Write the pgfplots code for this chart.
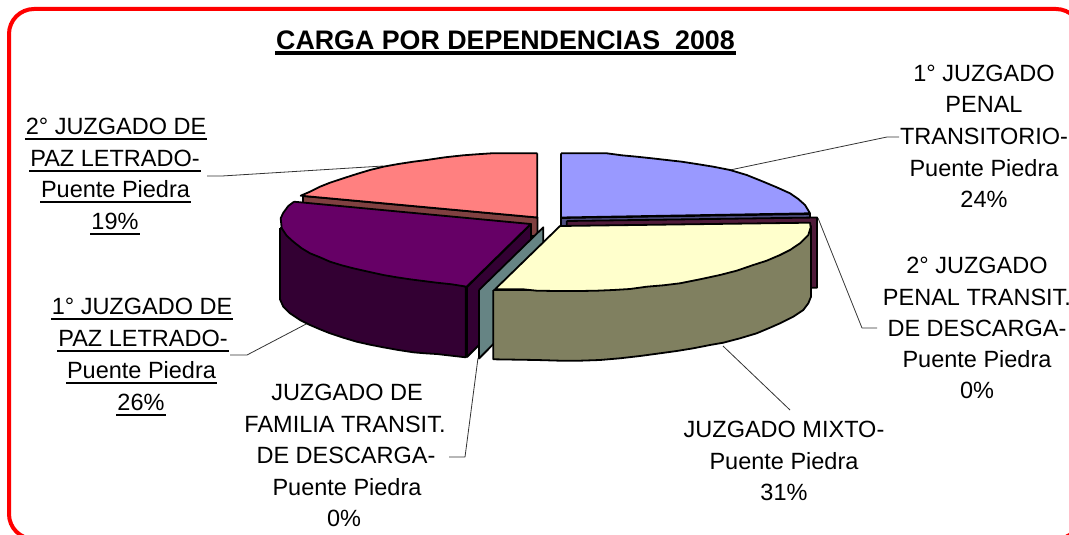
\documentclass[border=0pt]{standalone}
\usepackage{fontspec}
\setmainfont{Liberation Sans}
\usepackage{pgfplots}
\pgfplotsset{compat=1.18}
\newcommand\ul[2][2pt]{\leavevmode\setbox0\hbox{#2}\rlap{\kern-1pt\rule[-5.5pt]{\dimexpr\wd0+2pt}{#1}}\box0}
\definecolor{rosa}{HTML}{FF8080}
\definecolor{rosaosc}{HTML}{804040}
\definecolor{azul}{HTML}{9999FF}
\definecolor{azulosc}{HTML}{4D4D80}
\definecolor{crema}{HTML}{FFFFCC}
\definecolor{oliva}{HTML}{808060}
\definecolor{morado}{HTML}{660066}
\definecolor{moradoosc}{HTML}{330033}
\definecolor{vino}{HTML}{4F1A3A}
\definecolor{gristeal}{HTML}{668484}
\tikzset{
    pie/.style={draw=black, line width=1.8pt},
    leader/.style={draw=black!80, line width=0.8pt},
    lbl/.style={anchor=base, inner sep=0pt, font=\fontsize{23.5}{28}\selectfont, text=black},
}
\begin{document}
\begin{tikzpicture}
\begin{axis}[
    name=ax,
    scale only axis,
    width=1069pt, height=535pt,
    xmin=0, xmax=1069, ymin=0, ymax=535,
    y dir=reverse,
    hide axis,
    every axis plot/.append style={no markers, line join=round},
]
% marco
\addplot[red, line width=4pt, rounded corners=25pt] coordinates {
    (9,300)(9,9)(1081,9)(1081,539)(9,539)(9,300)};

% lineas guia
\addplot[leader] coordinates {(730,170)(887,137)(899,137)};
\addplot[leader] coordinates {(818,218)(862,328)(877,328)};
\addplot[leader] coordinates {(723,346)(790,410)};
\addplot[leader] coordinates {(478,358)(465,457)(449,457)};
\addplot[leader] coordinates {(310,322)(247,355)(230,355)};
\addplot[leader] coordinates {(383,166)(222,176)(207,176)};

% 2 juzgado de paz
\addplot[pie, fill=rosaosc] coordinates {(303,196)(537.5,217.5)(537.5,236)(530,236)(303,203)(303,196)};
\addplot[pie, fill=rosa] coordinates {(537.3,153.3)(491.7,153.3)(476.7,154.3)(463.3,155.3)(445,157.3)(426.7,160)(413.3,161.7)(398.3,164)(383.3,166.7)(370,170)(356.7,174)(343.3,178.3)(330,182.7)(320,186.7)(310,191.7)(300.7,195.7)(537.3,217.5)(537.3,153.3)};

% 1 juzgado penal
\addplot[pie, fill=azulosc] coordinates {(561,218)(810,214)(810,226)(561,227)(561,218)};
\addplot[pie, fill=azul] coordinates {(561,153.3)(606.7,153.3)(621.7,155.3)(636.7,156.7)(651.7,158.3)(666.7,160)(681.7,161.7)(696.7,164)(713.3,166.7)(730,170)(746.7,175)(763.3,181.7)(776.7,187.3)(790,193.3)(798.3,199)(805,205)(810,213.3)(561,217.5)(561,153.3)};

% 2 juzgado penal descarga
\addplot[pie, fill=vino] coordinates {(566.7,221)(817,217.5)(817,287.7)(811,287.7)(811,226)(566.7,226)(566.7,221)};

% 1 juzgado de paz
\addplot[pie, fill=moradoosc] coordinates {(467,287)(531,224)(531,293)(467,357)(467,287)};
\addplot[pie, fill=moradoosc] coordinates {(280,228)(280,299.3)(283.3,306.7)(290,313.3)(300,320)(310,325)(320,329.3)(330,333.3)(343.3,337.7)(356.7,341.7)(370,344.7)(383.3,347.3)(398.3,350)(413.3,352.3)(425,353.3)(436.7,354)(465.7,357.3)(465.7,286.7)(280,228)};
\addplot[pie, fill=morado] coordinates {(294,201.7)(530.7,224)(466.7,286.7)(451.7,284.3)(436.7,282.7)(423.3,281)(410,279.3)(396.7,277.3)(383.3,275)(368.3,271.7)(353.3,268.3)(341.7,265.3)(330,261.7)(320,257.3)(310,253.3)(301.7,248.3)(293.3,241.7)(286.7,235.7)(281.7,228.3)(280.7,218.3)(283.3,212.7)(288.3,206)(294,201.7)};

% juzgado de familia
\addplot[pie, fill=gristeal] coordinates {(479,290)(543.3,227.3)(543.3,294)(479,358.5)(479,290)};

% juzgado mixto
\addplot[pie, fill=oliva] coordinates {(493.3,290)(493.3,359.3)(536.7,360)(560,360.7)(580,360.7)(600,360)(620,358.3)(640,356)(660,353.3)(676.7,351)(693.3,348.3)(710,345)(723.3,342.7)(740,338.3)(756.7,333.3)(770,327.7)(780,323.3)(793.3,316.7)(803.3,310)(808.3,303.3)(811,296.7)(811,230)(780,255)(613,290)(493.3,290)};
\addplot[pie, fill=crema] coordinates {(560,226)(810,222.7)(810.7,227.3)(808.3,235)(800,243.3)(790,250)(780,255)(766.7,260.7)(753.3,265)(736.7,270.7)(720,275)(700,279.3)(680,283.3)(663.3,285.3)(646.7,286.7)(630,289)(613.3,290)(596.7,290.7)(580,291)(556.7,291)(536.7,290.7)(523.3,289.3)(495,289.3)(560,226)};

% titulo
\node[anchor=base, inner sep=0pt, font=\fontsize{26.8}{30}\selectfont\bfseries] at (axis cs:505.5,49.3) {\ul[4pt]{CARGA POR DEPENDENCIAS\ \ 2008}};

% etiquetas
\node[lbl] at (axis cs:984,81.5) {1° JUZGADO};
\node[lbl] at (axis cs:984,113) {PENAL};
\node[lbl] at (axis cs:984,144.5) {TRANSITORIO-};
\node[lbl] at (axis cs:984,176) {Puente Piedra};
\node[lbl] at (axis cs:984,207.5) {24\%};

\node[lbl] at (axis cs:977,273.5) {2° JUZGADO};
\node[lbl] at (axis cs:977,305) {PENAL TRANSIT.};
\node[lbl] at (axis cs:977,336) {DE DESCARGA-};
\node[lbl] at (axis cs:977,367) {Puente Piedra};
\node[lbl] at (axis cs:977,398.5) {0\%};

\node[lbl] at (axis cs:784,437.5) {JUZGADO MIXTO-};
\node[lbl] at (axis cs:784,469) {Puente Piedra};
\node[lbl] at (axis cs:784,500.5) {31\%};

\node[lbl] at (axis cs:347,400.5) {JUZGADO DE};
\node[lbl] at (axis cs:345,432) {FAMILIA TRANSIT.};
\node[lbl] at (axis cs:346,463.5) {DE DESCARGA-};
\node[lbl] at (axis cs:347,495) {Puente Piedra};
\node[lbl] at (axis cs:344,526.5) {0\%};

\node[lbl] at (axis cs:116,135) {\ul{2° JUZGADO DE}};
\node[lbl] at (axis cs:115,166) {\ul{PAZ LETRADO-}};
\node[lbl] at (axis cs:115.5,197.7) {\ul{Puente Piedra}};
\node[lbl] at (axis cs:115,229.3) {\ul{19\%}};

\node[lbl] at (axis cs:142,314.5) {\ul{1° JUZGADO DE}};
\node[lbl] at (axis cs:143,346.5) {\ul{PAZ LETRADO-}};
\node[lbl] at (axis cs:141.5,378.5) {\ul{Puente Piedra}};
\node[lbl] at (axis cs:141,410.5) {\ul{26\%}};
\end{axis}
\pgfresetboundingbox
\path[use as bounding box] (ax.south west) rectangle (ax.north east);
\end{tikzpicture}
\end{document}
